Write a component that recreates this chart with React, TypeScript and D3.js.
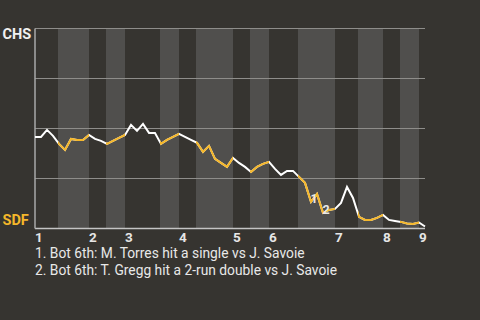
import React from 'react';
import * as d3 from 'd3';

// CHS win probability (%) after each plate appearance
const chsWinPct = [
  45.8, 45.8, 49.3, 46.3, 42.3, 39.3, 44.8, 44.3, 44.3, 46.8,
  44.8, 43.8, 42.3, 43.8, 45.3, 46.8, 51.8, 48.8, 52.3, 47.8,
  47.8, 42.3, 44.3, 45.8, 47.3, 45.8, 44.3, 42.8, 38.3, 41.3,
  34.8, 32.8, 30.8, 35.3, 32.8, 30.8, 28.3, 30.8, 32.3, 33.3,
  29.8, 26.8, 28.8, 28.8, 25.8, 22.8, 13.3, 17.3, 7.8, 9.3,
  9.8, 12.8, 20.8, 15.3, 5.8, 4.3, 4.3, 5.3, 6.8, 4.3,
  3.8, 3.3, 2.5, 2.3, 3.0, 1.0,
];

// bottom-half (SDF batting) play ranges
const bottomHalfStart = [4, 12, 21, 27, 36, 44, 54, 61];
const bottomHalfEnd = [9, 15, 24, 33, 39, 50, 58, 64];

// inning labels at the first play of each inning
const inningStart = [0, 9, 15, 24, 33, 39, 50, 58, 64];
const inningLabels = ['1', '2', '3', '4', '5', '6', '7', '8', '9'];

const teamTop = 'CHS';
const teamBottom = 'SDF';

const notePlays = [46, 48];
const noteMarks = ['1', '2'];
const noteTexts = [
  '1. Bot 6th: M. Torres hit a single vs J. Savoie',
  '2. Bot 6th: T. Gregg hit a 2-run double vs J. Savoie',
];

const yTicks = [0, 25, 50, 75, 100];

export default function App() {
  const W = 480;
  const H = 320;
  const left = 35;
  const right = 425;
  const top = 28.5;
  const bottom = 228.5;
  const BG = '#363430';
  const BAND = '#504f4d';
  const YELLOW = '#f5b72a';
  const WHITE = '#ffffff';
  const font = 'Roboto, "Noto Sans", sans-serif';

  const x = d3.scaleLinear().domain([0, chsWinPct.length - 1]).range([left, right]);
  const y = d3.scaleLinear().domain([0, 100]).range([bottom, top]);
  const line = d3
    .line<number>()
    .x((_, i) => x(i))
    .y((d) => y(d));
  const path = line(chsWinPct) || '';

  const bands = bottomHalfStart.map((s, i) => ({
    x0: x(s) - 1,
    x1: x(bottomHalfEnd[i]),
  }));

  return (
    <svg
      width={W}
      height={H}
      style={{ position: 'absolute', left: 0, top: 0, display: 'block' }}
    >
      <defs>
        <clipPath id="bottomHalves">
          {bands.map((b, i) => (
            <rect key={i} x={b.x0} y={0} width={b.x1 - b.x0} height={H} />
          ))}
        </clipPath>
      </defs>
      <rect x={0} y={0} width={W} height={H} fill={BG} />
      {bands.map((b, i) => (
        <rect key={i} x={b.x0} y={top} width={b.x1 - b.x0} height={bottom - top} fill={BAND} />
      ))}
      {yTicks.map((t) => (
        <line
          key={t}
          x1={left}
          x2={right}
          y1={y(t)}
          y2={y(t)}
          stroke={t === 0 ? '#c4c4c4' : '#8e8d8a'}
          strokeWidth={t === 0 ? 1.5 : 1.2}
        />
      ))}
      <line x1={left} x2={left} y1={top} y2={bottom} stroke="#a8a8a8" strokeWidth={1.5} />

      <path d={path} fill="none" stroke={WHITE} strokeWidth={2} strokeLinejoin="miter" />
      <path
        d={path}
        fill="none"
        stroke={YELLOW}
        strokeWidth={2}
        clipPath="url(#bottomHalves)"
      />

      {notePlays.map((p, i) => (
        <text
          key={i}
          x={x(p) + 3}
          y={y(chsWinPct[p]) + 1.5}
          textAnchor="middle"
          fontFamily={font}
          fontWeight="bold"
          fontSize={12.5}
          fill="#e8e8e8"
        >
          {noteMarks[i]}
        </text>
      ))}

      <text x={2.5} y={39} fontFamily={font} fontWeight="bold" fontSize={14.5} fill="#f0f0f0">
        {teamTop}
      </text>
      <text x={2.5} y={224.5} fontFamily={font} fontWeight="bold" fontSize={14.5} fill={YELLOW}>
        {teamBottom}
      </text>

      {inningStart.map((p, i) => (
        <text
          key={i}
          x={x(p)}
          y={242}
          fontFamily={font}
          fontWeight="bold"
          fontSize={13.5}
          fill="#e6e6e6"
        >
          {inningLabels[i]}
        </text>
      ))}

      {noteTexts.map((t, i) => (
        <text
          key={i}
          x={35}
          y={257.5 + i * 17.7}
          fontFamily={font}
          fontSize={13.8}
          fill="#e8e8e8"
        >
          {t}
        </text>
      ))}
    </svg>
  );
}
